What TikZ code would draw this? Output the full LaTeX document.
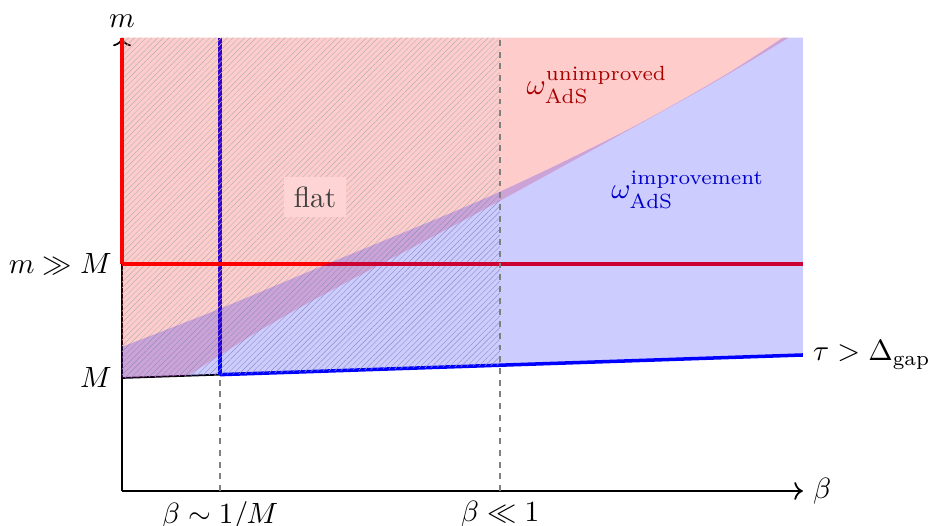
\documentclass[tikz,border=0pt]{standalone}
\usepackage{amssymb}
\usepackage{amsmath}
\usepackage{xcolor}
\usepackage{tikz}
\usetikzlibrary{patterns.meta,arrows.meta}
\definecolor{unimpcol}{RGB}{170,0,0}
\definecolor{impcol}{RGB}{0,0,200}

\begin{document}
\begin{tikzpicture}[
  axisline/.style={black, line width=0.6pt},
  redline/.style={red, line width=1.2pt},
  blueline/.style={blue, line width=1.2pt},
  guideline/.style={gray, dash pattern=on 2pt off 2pt, line width=0.4pt},
  regionfill/.style={fill=#1, fill opacity=0.2}]
  \useasboundingbox (-1.464,-0.42) rectangle (9.672,5.892);

  \coordinate (O) at (0,0);
  \coordinate (Xend) at (8.17,0);
  \coordinate (Yend) at (0,5.44);
  \coordinate (M) at (0,1.356);
  \coordinate (Mbig) at (0,2.724);
  \coordinate (MbigEnd) at (8.17,2.724);
  \coordinate (Binv) at (1.176,0);
  \coordinate (BinvLow) at (1.176,1.396);
  \coordinate (BinvTop) at (1.176,5.44);
  \coordinate (Bsmall) at (4.536,0);
  \coordinate (BsmallLow) at (4.536,1.509);
  \coordinate (BsmallTop) at (4.536,5.44);
  \coordinate (Tend) at (8.17,1.632);
  \coordinate (TopRight) at (8.17,5.44);

  \draw[axisline, ->] (O) -- (Xend);
  \draw[axisline, ->] (O) -- (Yend);
  \draw[axisline] (M) -- (BinvLow);

  \draw[blueline] (BinvLow) -- (BinvTop);
  \draw[blueline] (BinvLow) -- (Tend);

  \fill[regionfill=red] (M) -- (0.79,1.383)
    -- plot[smooth] coordinates {(0.79,1.383) (1.66,1.93) (2.5,2.40)
       (4.42,3.42) (6.94,4.81) (8.0,5.44)}
    -- (Yend) -- cycle;

  \fill[pattern={Lines[angle=45, distance=1.4pt, line width=0.15pt]}, pattern color=gray!60]
    (M) -- (BsmallLow) -- (BsmallTop) -- (Yend) -- cycle;

  \draw[redline] (Mbig) -- (Yend);
  \draw[redline] (Mbig) -- (MbigEnd);

  \fill[regionfill=blue] (M) -- (Tend) -- (TopRight) -- (7.93,5.44)
    -- plot[smooth] coordinates {(7.93,5.44) (7.2,4.97) (6.0,4.30) (4.42,3.54)
       (2.5,2.74) (1.18,2.19) (0,1.73)}
    -- cycle;

  \draw[guideline] (Binv) -- (BinvLow);
  \draw[guideline] (Bsmall) -- (BsmallTop);

  \node[fill=red!17, text=black!75] (flat) at (2.316,3.528) {flat};
  \node[text=unimpcol] (unimp) at (5.70,4.872) {$\omega_{\text{AdS}}^{\text{unimproved}}$};
  \node[text=impcol] (imp) at (6.79,3.612) {$\omega_{\text{AdS}}^{\text{improvement}}$};

  \node[above] (mlab) at (Yend) {$m$};
  \node[right] (betalab) at (Xend) {$\beta$};
  \node[left] (mbiglab) at (Mbig) {$m \gg M$};
  \node[left] (Mlab) at (M) {$M$};
  \node[right] (taulab) at (Tend) {$\tau > \Delta_{\text{gap}}$};
  \node[below] (binvlab) at (Binv) {$\beta \sim 1/M$};
  \node[below] (bsmalllab) at (Bsmall) {$\beta \ll 1$};
\end{tikzpicture}
\end{document}
